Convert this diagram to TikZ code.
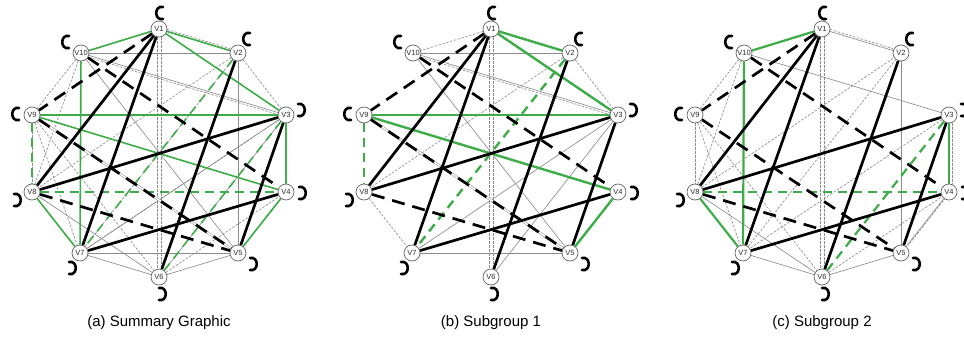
\documentclass[tikz,border=0pt]{standalone}
\usepackage{fontspec}
\setmainfont{Liberation Sans}
\usetikzlibrary{arrows.meta,calc}
\pgfdeclarelayer{thinlayer}
\pgfdeclarelayer{colorlayer}
\pgfdeclarelayer{boldlayer}
\pgfsetlayers{thinlayer,colorlayer,boldlayer,main}

\definecolor{edgegreen}{RGB}{62,172,72}
\definecolor{thingray}{RGB}{140,140,140}
\definecolor{ringgray}{RGB}{100,100,100}
\definecolor{labelgray}{RGB}{45,45,45}

\tikzset{
  vert/.style={circle, draw=ringgray, line width=0.7pt, fill=white, inner sep=0pt,
    minimum size=16pt, text=labelgray, font=\fontsize{7.5}{8}\selectfont},
  strong/.style={line width=2.7pt, black},
  strongdash/.style={line width=2.7pt, black, dash pattern=on 13pt off 8pt},
  grn/.style={line width=#1, edgegreen},
  grn/.default=2pt,
  grndash/.style={line width=#1, edgegreen, dash pattern=on 9pt off 6pt},
  grndash/.default=2pt,
  weak/.style={line width=0.65pt, thingray},
  weakdash/.style={line width=0.65pt, thingray, dash pattern=on 2.5pt off 1.5pt},
  weakdouble/.style={line width=0.5pt, thingray, double=white, double distance=1.4pt},
  nudge/.style={transform canvas={shift={(#1)}}},
  selfloop/.style={line width=2.6pt, black, line cap=round},
  caption/.style={font=\fontsize{15}{17}\selectfont, inner sep=0pt},
}

\begin{document}
\begin{tikzpicture}[x=1pt, y=-1pt]
\useasboundingbox (0,0) rectangle (964,343);

% vertices of the three decagon graphs
\foreach \p/\cx in {a/159, b/491, c/822}{
  \foreach \i/\dx/\dy in {1/0/-124, 2/79/-100, 3/127/-38, 4/127/39, 5/79/100,
                          6/0/124, 7/-79/100, 8/-127/39, 9/-127/-38, 10/-78/-100}{
    \node[vert] (\p\i) at (\cx+\dx, 153+\dy) {V\i};
  }
}

% thin gray relations
\begin{pgfonlayer}{thinlayer}
  % summary graph
  \foreach \u/\v in {10/2, 10/3, 10/5, 7/5, 7/3, 3/6, 2/6, 1/2, 2/5, 5/6, 8/6, 7/6, 4/5}
    \draw[weak] (a\u) -- (a\v);
  \foreach \u/\v in {1/10, 1/2, 2/3, 2/8, 8/7, 7/4, 10/9, 10/8, 9/8, 9/7, 9/6, 7/2, 6/4, 6/2, 3/4, 4/5, 3/7}
    \draw[weakdash] (a\u) -- (a\v);
  \draw[weakdash, nudge={0pt,2pt}] (a1) -- (a2);
  \draw[weakdash, nudge={-2pt,0pt}] (a1) -- (a6);
  \draw[weakdash, nudge={2pt,0pt}] (a1) -- (a6);
  \draw[weakdash, nudge={0pt,-2pt}] (a10) -- (a3);
  \draw[weakdouble] (a9) -- (a5);
  % subgroup 1
  \foreach \u/\v in {10/2, 10/3, 10/5, 7/5, 7/3, 3/6, 2/6}
    \draw[weak] (b\u) -- (b\v);
  \foreach \u/\v in {1/10, 1/2, 2/3, 2/8, 8/7, 7/4}
    \draw[weakdash] (b\u) -- (b\v);
  \draw[weakdash, nudge={-2pt,0pt}] (b1) -- (b6);
  \draw[weakdash, nudge={2pt,0pt}] (b1) -- (b6);
  \draw[weakdash, nudge={0pt,-2pt}] (b10) -- (b3);
  \draw[weakdouble] (b9) -- (b5);
  % subgroup 2
  \foreach \u/\v in {1/2, 10/3, 2/5, 5/6, 8/6, 7/6, 4/5}
    \draw[weak] (c\u) -- (c\v);
  \foreach \u/\v in {1/10, 10/9, 10/8, 9/8, 9/7, 9/6, 8/2, 7/2, 6/4, 6/2, 3/7}
    \draw[weakdash] (c\u) -- (c\v);
  \draw[weakdash, nudge={0pt,2pt}] (c1) -- (c2);
  \draw[weakdash, nudge={-2pt,0pt}] (c1) -- (c6);
  \draw[weakdash, nudge={2pt,0pt}] (c1) -- (c6);
  \draw[weakdash, nudge={3pt,0pt}] (c3) -- (c4);
  \draw[weakdash, nudge={2pt,1pt}] (c4) -- (c5);
\end{pgfonlayer}

% green relations
\begin{pgfonlayer}{colorlayer}
  \foreach \u/\v in {1/2, 1/3, 9/3, 9/4, 4/5, 1/10, 10/7, 8/7, 3/4}
    \draw[grn=1.6pt] (a\u) -- (a\v);
  \foreach \u/\v in {9/8, 2/7, 8/4, 3/6}
    \draw[grndash=1.6pt] (a\u) -- (a\v);
  \foreach \u/\v in {1/2, 1/3, 9/3, 9/4, 4/5}
    \draw[grn=2.4pt] (b\u) -- (b\v);
  \foreach \u/\v in {9/8, 2/7}
    \draw[grndash=2.4pt] (b\u) -- (b\v);
  \foreach \u/\v in {1/10, 10/7, 8/7, 3/4}
    \draw[grn=2.2pt] (c\u) -- (c\v);
  \foreach \u/\v in {8/4, 3/6}
    \draw[grndash=2.2pt] (c\u) -- (c\v);
\end{pgfonlayer}

% black relations shared by all three graphs
\begin{pgfonlayer}{boldlayer}
  \foreach \p in {a,b,c}{
    \foreach \u/\v in {1/8, 1/7, 2/6, 3/8, 3/5, 4/7}
      \draw[strong] (\p\u) -- (\p\v);
    \foreach \u/\v in {1/9, 10/4, 9/5, 8/5}
      \draw[strongdash] (\p\u) -- (\p\v);
  }
\end{pgfonlayer}

% self loops
\foreach \p in {a,b,c}{
  \foreach \i/\lx/\ly in {1/1/-16, 2/9/-14, 9/-16/-1, 10/-15/-11}{
    \draw[selfloop] ($(\p\i)+(\lx+3,\ly-6)$) .. controls ($(\p\i)+(\lx-6,\ly-8)$)
      and ($(\p\i)+(\lx-6,\ly+8)$) .. ($(\p\i)+(\lx+3,\ly+6)$);
  }
  \foreach \i/\lx/\ly in {3/15/-5, 4/16/1, 5/15/11, 6/3/17, 7/-8/15, 8/-15/8}{
    \draw[selfloop] ($(\p\i)+(\lx-3,\ly-6)$) .. controls ($(\p\i)+(\lx+6,\ly-8)$)
      and ($(\p\i)+(\lx+6,\ly+8)$) .. ($(\p\i)+(\lx-3,\ly+6)$);
  }
}

% captions
\node[caption] (capa) at (159,323) {(a) Summary Graphic};
\node[caption] (capb) at (491,323) {(b) Subgroup 1};
\node[caption] (capc) at (822,323) {(c) Subgroup 2};
\end{tikzpicture}
\end{document}
